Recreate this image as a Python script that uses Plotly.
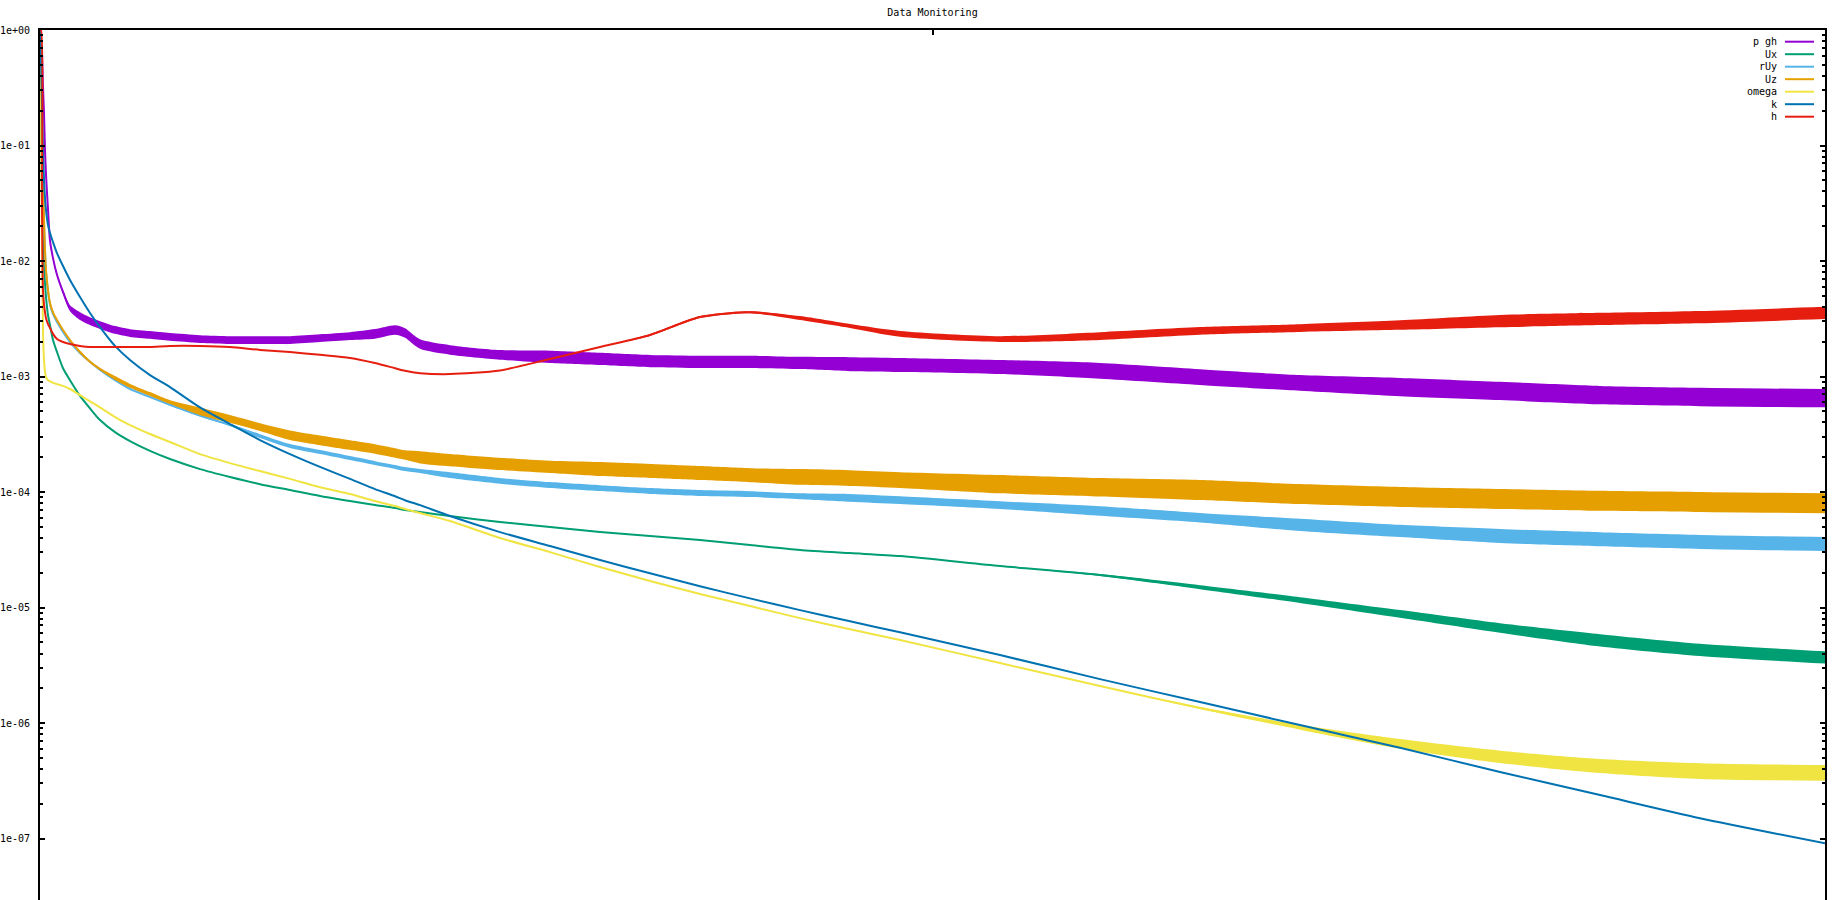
import plotly.graph_objects as go

# ---------------- data ----------------
iterations = [0, 4, 8, 12, 16, 20, 24, 32, 40, 52, 68, 92, 120, 160, 200, 240, 300, 360,
              440, 520, 640, 760, 880, 1000, 1120, 1240, 1340, 1420, 1460, 1520, 1640,
              1840, 2040, 2240, 2440, 2640, 2840, 3040, 3240, 3440, 3840, 4240, 4640,
              5040, 5440, 5840, 6240, 6640, 7140]

series_names = ["p gh", "Ux", "rUy", "Uz", "omega", "k", "h"]
series_colors = ["#9400d3", "#009e73", "#56b4e9", "#e69f00", "#f0e442", "#0072b2", "#e51e10"]

p_gh = [1.0, 0.82, 0.61, 0.32, 0.19, 0.091, 0.056, 0.028, 0.015, 0.0106,
        7.6e-3, 5.4e-3, 3.9e-3, 3.34e-3, 3.02e-3, 2.79e-3, 2.53e-3, 2.38e-3, 2.29e-3, 2.20e-3,
        2.11e-3, 2.07e-3, 2.07e-3, 2.07e-3, 2.15e-3, 2.24e-3, 2.34e-3, 2.53e-3, 2.38e-3, 1.91e-3,
        1.70e-3, 1.54e-3, 1.48e-3, 1.42e-3, 1.36e-3, 1.34e-3, 1.34e-3, 1.31e-3, 1.28e-3, 1.26e-3,
        1.21e-3, 1.12e-3, 9.9e-4, 8.8e-4, 8.1e-4, 7.5e-4, 6.9e-4, 6.65e-4, 6.5e-4]
Ux = [1.0, 0.248, 0.0293, 0.0152, 9.2e-3, 6.45e-3, 4.88e-3, 3.41e-3, 2.79e-3, 2.07e-3,
      1.63e-3, 1.18e-3, 9.3e-4, 6.8e-4, 5.3e-4, 4.2e-4, 3.3e-4, 2.76e-4, 2.27e-4, 1.93e-4,
      1.58e-4, 1.35e-4, 1.17e-4, 1.04e-4, 9.23e-5, 8.36e-5, 7.72e-5, 7.27e-5, 6.99e-5, 6.71e-5,
      6.2e-5, 5.5e-5, 4.98e-5, 4.5e-5, 4.16e-5, 3.84e-5, 3.48e-5, 3.15e-5, 2.96e-5, 2.79e-5,
      2.29e-5, 1.91e-5, 1.50e-5, 1.16e-5, 8.8e-6, 6.65e-6, 5.2e-6, 4.3e-6, 3.7e-6]
rUy = [1.0, 0.55, 0.166, 0.0455, 0.0218, 0.012, 8.0e-3, 5.4e-3, 4.2e-3, 3.48e-3,
       2.96e-3, 2.43e-3, 1.99e-3, 1.60e-3, 1.34e-3, 1.14e-3, 9.3e-4, 7.8e-4, 6.65e-4, 5.7e-4,
       4.6e-4, 3.8e-4, 3.05e-4, 2.5e-4, 2.22e-4, 1.97e-4, 1.78e-4, 1.65e-4, 1.58e-4, 1.52e-4,
       1.40e-4, 1.25e-4, 1.15e-4, 1.08e-4, 1.02e-4, 9.8e-5, 9.6e-5, 9.2e-5, 8.9e-5, 8.5e-5,
       7.7e-5, 6.85e-5, 6.0e-5, 5.2e-5, 4.6e-5, 4.16e-5, 3.9e-5, 3.7e-5, 3.55e-5]
Uz = [1.0, 0.55, 0.166, 0.047, 0.0227, 0.0125, 8.4e-3, 5.6e-3, 4.33e-3, 3.6e-3,
      3.08e-3, 2.53e-3, 2.07e-3, 1.63e-3, 1.34e-3, 1.16e-3, 9.7e-4, 8.3e-4, 7.05e-4, 6.0e-4,
      5.0e-4, 4.3e-4, 3.65e-4, 3.1e-4, 2.8e-4, 2.55e-4, 2.36e-4, 2.18e-4, 2.09e-4, 2.0e-4,
      1.89e-4, 1.75e-4, 1.65e-4, 1.58e-4, 1.52e-4, 1.46e-4, 1.40e-4, 1.35e-4, 1.32e-4, 1.27e-4,
      1.17e-4, 1.10e-4, 1.04e-4, 9.6e-5, 9.05e-5, 8.7e-5, 8.4e-5, 8.2e-5, 8.0e-5]
omega = [1.0, 0.248, 0.0125, 2.53e-3, 1.39e-3, 1.10e-3, 9.9e-4, 9.3e-4, 9.1e-4, 8.8e-4,
         8.6e-4, 8.3e-4, 7.8e-4, 6.9e-4, 6.1e-4, 5.4e-4, 4.46e-4, 3.8e-4, 3.18e-4, 2.71e-4,
         2.13e-4, 1.78e-4, 1.52e-4, 1.30e-4, 1.10e-4, 9.6e-5, 8.36e-5, 7.56e-5, 7.13e-5, 6.58e-5,
         5.61e-5, 4.0e-5, 3.02e-5, 2.24e-5, 1.70e-5, 1.31e-5, 1.03e-5, 8.1e-6, 6.5e-6, 5.23e-6,
         3.31e-6, 2.09e-6, 1.35e-6, 9.2e-7, 6.6e-7, 5.1e-7, 4.25e-7, 3.84e-7, 3.7e-7]
k = [1.0, 0.55, 0.224, 0.091, 0.0503, 0.0351, 0.0276, 0.0205, 0.0175, 0.0146,
     0.0117, 9.05e-3, 6.85e-3, 4.88e-3, 3.55e-3, 2.68e-3, 1.84e-3, 1.39e-3, 1.03e-3, 8.1e-4,
     5.4e-4, 3.88e-4, 2.82e-4, 2.13e-4, 1.65e-4, 1.30e-4, 1.06e-4, 9.2e-5, 8.5e-5, 7.7e-5,
     6.2e-5, 4.5e-5, 3.41e-5, 2.58e-5, 1.98e-5, 1.53e-5, 1.20e-5, 9.5e-6, 7.6e-6, 6.1e-6,
     3.88e-6, 2.4e-6, 1.52e-6, 9.6e-7, 6.1e-7, 3.77e-7, 2.38e-7, 1.50e-7, 9.1e-8]
h = [1.0, 1.0, 3.4e-2, 5.6e-3, 4.2e-3, 3.6e-3, 3.2e-3, 2.85e-3, 2.63e-3, 2.34e-3,
     2.11e-3, 1.99e-3, 1.91e-3, 1.84e-3, 1.80e-3, 1.80e-3, 1.80e-3, 1.80e-3, 1.80e-3, 1.84e-3,
     1.84e-3, 1.80e-3, 1.70e-3, 1.63e-3, 1.54e-3, 1.45e-3, 1.31e-3, 1.18e-3, 1.12e-3, 1.07e-3,
     1.05e-3, 1.13e-3, 1.42e-3, 1.80e-3, 2.29e-3, 3.27e-3, 3.6e-3, 3.21e-3, 2.74e-3, 2.34e-3,
     2.11e-3, 2.24e-3, 2.48e-3, 2.63e-3, 2.79e-3, 3.02e-3, 3.15e-3, 3.27e-3, 3.55e-3]

# scatter of the residual noise: ratio between envelope and centre value
p_gh_spread = [1.0] * 10 + [1.02, 1.04, 1.06] + [1.08] * 13 + [1.1] * 6 + [1.13] * 6 + [1.15] * 3 + [1.17] * 3 + [1.2] * 5
Ux_spread = [1.0] * 41 + [1.02, 1.04, 1.06, 1.08, 1.1, 1.13, 1.13, 1.13]
rUy_spread = [1.0] * 19 + [1.02] * 3 + [1.04] * 8 + [1.06] * 8 + [1.08] * 3 + [1.1] * 2 + [1.13] * 2 + [1.15] * 4
Uz_spread = [1.0] * 13 + [1.02] * 3 + [1.04] * 4 + [1.08] * 3 + [1.1] * 6 + [1.13] * 4 + [1.15] * 4 + [1.17] * 3 + [1.2] * 2 + [1.22] * 2 + [1.22] * 5
omega_spread = [1.0] * 42 + [1.02, 1.05, 1.1, 1.13, 1.15, 1.17, 1.17]
k_spread = [1.0] * 49
h_spread = [1.0] * 34 + [1.02] * 3 + [1.04] * 2 + [1.06] * 2 + [1.08] * 3 + [1.1, 1.13, 1.13, 1.13, 1.13]

y_tick_values = [1e0, 1e-1, 1e-2, 1e-3, 1e-4, 1e-5, 1e-6, 1e-7]
y_tick_labels = ["1e+00", "1e-01", "1e-02", "1e-03", "1e-04", "1e-05", "1e-06", "1e-07"]
x_tick_values = [0, 3570, 7140]

# ---------------- figure ----------------
series_values = [p_gh, Ux, rUy, Uz, omega, k, h]
series_spreads = [p_gh_spread, Ux_spread, rUy_spread, Uz_spread, omega_spread, k_spread, h_spread]

FONT = "DejaVu Sans Mono"
SMOOTH = dict(shape="spline", smoothing=0.7)
fig = go.Figure()

for name, color, vals, spread in zip(series_names, series_colors, series_values, series_spreads):
    if any(s > 1.0 for s in spread):
        upper = [v * s for v, s in zip(vals, spread)]
        lower = [v / s for v, s in zip(vals, spread)]
        fig.add_trace(go.Scatter(
            x=iterations, y=lower, mode="lines",
            line=dict(width=0, color=color, **SMOOTH),
            hoverinfo="skip", showlegend=False,
        ))
        fig.add_trace(go.Scatter(
            x=iterations, y=upper, mode="lines", fill="tonexty", fillcolor=color,
            line=dict(width=0, color=color, **SMOOTH),
            hoverinfo="skip", showlegend=False,
        ))
    fig.add_trace(go.Scatter(
        x=iterations, y=vals, mode="lines", name=name,
        line=dict(color=color, width=2, **SMOOTH), showlegend=False,
    ))

minor_vals = [m * 10.0 ** (-e) for e in range(0, 8) for m in range(2, 10)]

fig.update_layout(
    width=1832, height=900,
    margin=dict(l=40, r=7, t=30, b=0),
    paper_bgcolor="white", plot_bgcolor="white",
    font=dict(family=FONT, size=10, color="black"),
    title=dict(text="Data Monitoring", x=0.5, xref="paper", xanchor="center",
               y=1 - 12 / 900, yref="container", yanchor="middle",
               font=dict(family=FONT, size=10, color="black")),
    showlegend=False,
    xaxis=dict(range=[0, 7140], side="top", showgrid=False, zeroline=False,
               showline=True, linecolor="black", linewidth=2, mirror=False,
               tickmode="array", tickvals=x_tick_values, ticks="inside",
               ticklen=5, tickwidth=2, tickcolor="black", showticklabels=False),
    yaxis=dict(type="log", range=[-7.532, 0.0001], showgrid=False, zeroline=False,
               showline=True, linecolor="black", linewidth=2, mirror="ticks",
               tickmode="array", tickvals=y_tick_values, ticktext=y_tick_labels,
               ticks="inside", ticklen=5, tickwidth=2, tickcolor="black",
               ticklabelstandoff=6,
               tickfont=dict(family=FONT, size=10, color="black"),
               minor=dict(tickmode="array", tickvals=minor_vals, ticks="inside",
                          ticklen=3, tickwidth=1.5, tickcolor="black", showgrid=False)),
)

# legend in gnuplot style: right-aligned label followed by a line sample
row0, row_step = 41.7, 12.5
plot_w, plot_h = 1785.0, 870.0
for i, (name, color) in enumerate(zip(series_names, series_colors)):
    ypix = row0 + i * row_step
    yp = 1 - (ypix - 30) / plot_h
    fig.add_annotation(x=(1779 - 40) / plot_w, y=yp, xref="paper", yref="paper",
                       text=name, showarrow=False, xanchor="right", yanchor="middle",
                       font=dict(family=FONT, size=10, color="black"))
    fig.add_shape(type="line", xref="paper", yref="paper",
                  x0=(1785 - 40) / plot_w, x1=(1814 - 40) / plot_w, y0=yp, y1=yp,
                  line=dict(color=color, width=2))

fig.write_html("out.html", config={"displayModeBar": False},
               post_script="document.body.style.margin='0';")
